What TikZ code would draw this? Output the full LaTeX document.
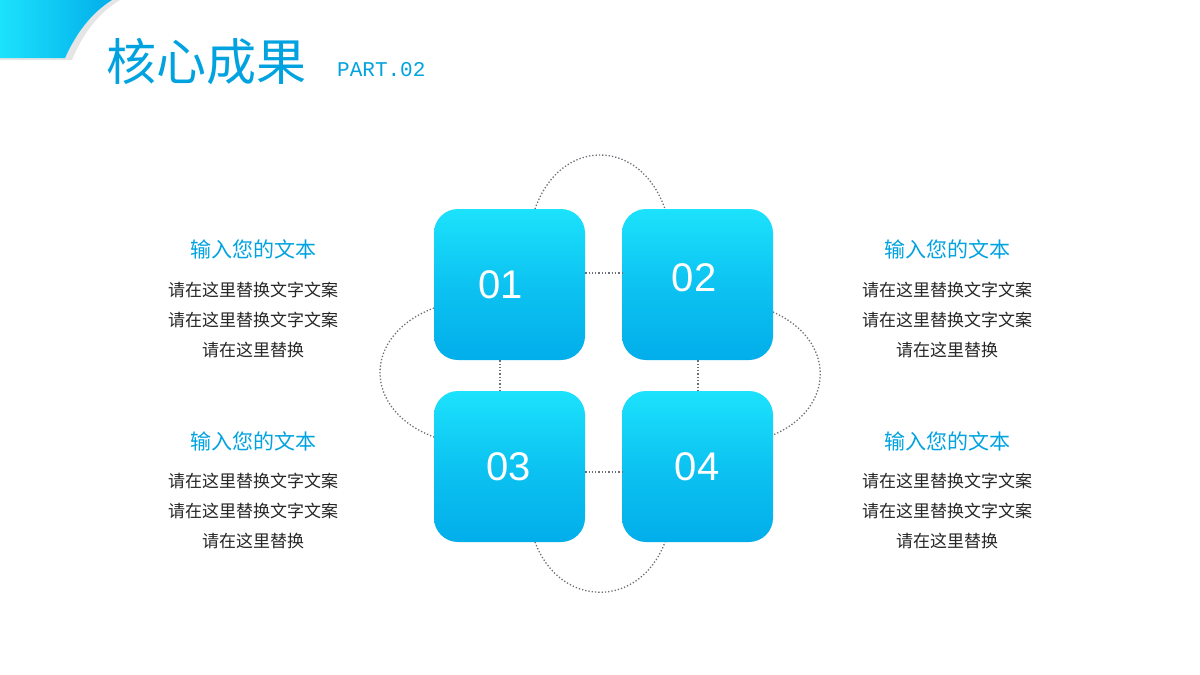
\documentclass[tikz,border=0pt]{standalone}
\usepackage{fontspec}
\setmainfont{Liberation Sans}
\newfontfamily\cjk{Noto Sans CJK SC}
\newfontfamily\monof{Liberation Mono}
\definecolor{tblue}{RGB}{0,163,224}
\definecolor{btop}{RGB}{28,226,252}
\definecolor{bbot}{RGB}{2,174,234}
\definecolor{dgray}{RGB}{110,110,120}
\begin{document}
\begin{tikzpicture}[x=1pt,y=-1pt,
  card/.style={minimum width=151pt,minimum height=151pt,rounded corners=24pt,top color=btop,bottom color=bbot,middle color=bbot!60!btop,shading angle=0,text=white,font=\fontsize{40}{40}\selectfont,inner sep=0},
  dots/.style={draw=dgray,dotted,line width=1.3pt},
  head/.style={text=tblue,font=\cjk\fontsize{21}{24}\selectfont},
  body/.style={text=black!85,font=\cjk\fontsize{17}{30}\selectfont,align=center}]
\useasboundingbox (0,0) rectangle (1200,675);
\fill[white] (0,0) rectangle (1200,675);
% corner
\fill[black!10] (0,0) -- (120,0) .. controls (95,15) and (80,40) .. (72,60) -- (0,60) -- cycle;
\shade[left color=btop, right color=bbot] (0,0) -- (112,0) .. controls (88,15) and (74,38) .. (65,58) -- (0,58) -- cycle;
\node[anchor=west,text=tblue,font=\cjk\fontsize{50}{50}\selectfont,inner sep=0] (title) at (106,62) {核心成果};
\node[anchor=west,text=tblue,font=\monof\fontsize{21}{21}\selectfont,inner sep=0] (part) at (337,70) {PART.02};
% dotted
\coordinate (t1) at (535,209); \coordinate (t2) at (665,209);
\coordinate (b1) at (535,542); \coordinate (b2) at (665,542);
\coordinate (l1) at (434,308); \coordinate (l2) at (434,437);
\coordinate (r1) at (773,312); \coordinate (r2) at (773,435);
\draw[dots] (t1) .. controls (560,137) and (640,137) .. (t2);
\draw[dots] (b1) .. controls (560,609) and (640,609) .. (b2);
\draw[dots] (l1) .. controls (362,335) and (362,410) .. (l2);
\draw[dots] (r1) .. controls (836,340) and (836,408) .. (r2);
\node[card] (c1) at (509.5,284.5) {};
\node[card] (c2) at (697.5,284.5) {};
\node[card] (c3) at (509.5,466.5) {};
\node[card] (c4) at (697.5,466.5) {};
\node[text=white,font=\fontsize{40}{40}\selectfont] at (501,285) {01};
\node[text=white,font=\fontsize{40}{40}\selectfont] at (694,278) {02};
\node[text=white,font=\fontsize{40}{40}\selectfont] at (509,467) {03};
\node[text=white,font=\fontsize{40}{40}\selectfont] at (697,467) {04};
\draw[dots] (c1.east |- 0,273) -- (c2.west |- 0,273);
\draw[dots] (c3.east |- 0,472) -- (c4.west |- 0,472);
\draw[dots] (c1.south -| 500,0) -- (c3.north -| 500,0);
\draw[dots] (c2.south -| 698,0) -- (c4.north -| 698,0);
% texts
\node[head] (h1) at (253,249) {输入您的文本};
\node[body] (d1) at (253,320) {请在这里替换文字文案\\请在这里替换文字文案\\请在这里替换};
\node[head] (h2) at (947,249) {输入您的文本};
\node[body] (d2) at (947,320) {请在这里替换文字文案\\请在这里替换文字文案\\请在这里替换};
\node[head] (h3) at (253,441) {输入您的文本};
\node[body] (d3) at (253,511) {请在这里替换文字文案\\请在这里替换文字文案\\请在这里替换};
\node[head] (h4) at (947,441) {输入您的文本};
\node[body] (d4) at (947,511) {请在这里替换文字文案\\请在这里替换文字文案\\请在这里替换};
\end{tikzpicture}
\end{document}
